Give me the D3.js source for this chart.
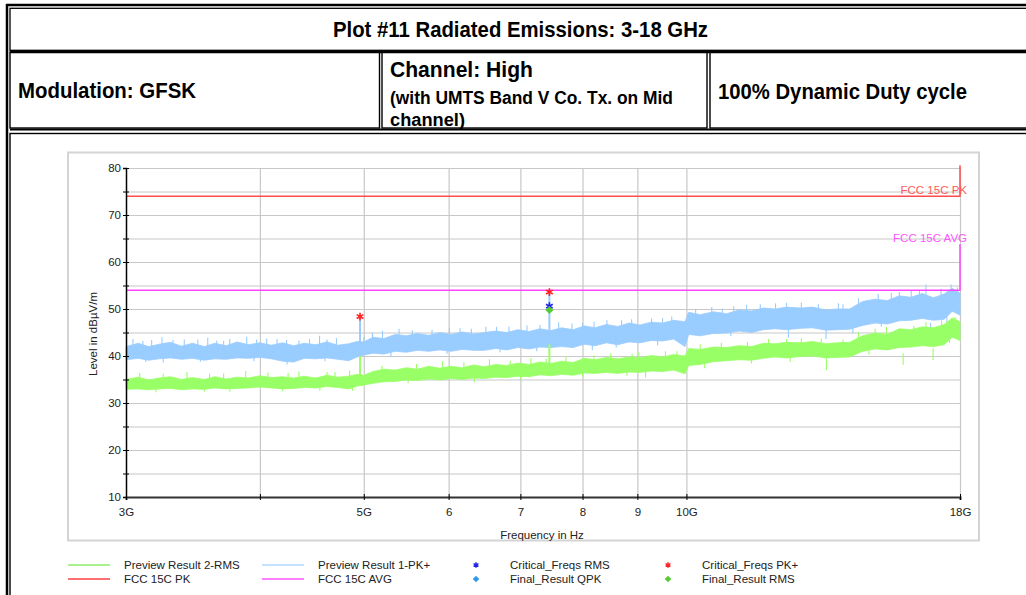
<!DOCTYPE html>
<html>
  <head>
    <meta charset="utf-8">
    <title>Plot #11 Radiated Emissions: 3-18 GHz</title>
    <script src="https://d3js.org/d3.v7.min.js"></script>
    <style>
      body { margin: 0; background: #fff; }
      svg { display: block; font-family: "Liberation Sans", Arial, sans-serif; }
      .head { font-weight: bold; fill: #000; }
      .lbl, .tick text { font-size: 11.5px; fill: #222; font-family: "Liberation Sans", Arial, sans-serif; }
      .grid line { stroke: #c8c8c8; stroke-width: 1.2; }
      .grid path { display: none; }
    </style>
  </head>
  <body>
    <svg id="page" width="1026" height="595"></svg>
    <script>
      // sweep frequencies (GHz) where the trace envelopes were read
      freqs = [3.00, 3.08, 3.15, 3.22, 3.30, 3.38, 3.46, 3.55, 3.63, 3.72, 3.81, 3.90, 4.00, 4.10, 4.20, 4.30, 4.40, 4.51, 4.62, 4.73,
        4.84, 4.93, 5.00, 5.10, 5.22, 5.35, 5.48, 5.61, 5.75, 5.89, 6.03, 6.18, 6.33, 6.48, 6.64, 6.80, 6.96, 7.13, 7.30, 7.47,
        7.65, 7.84, 8.03, 8.22, 8.42, 8.63, 8.84, 9.05, 9.27, 9.50, 9.73, 9.97, 10.05, 10.3, 10.6, 10.9, 11.2, 11.5, 11.8, 12.1,
        12.4, 12.8, 13.1, 13.5, 13.8, 14.2, 14.6, 15.0, 15.4, 15.8, 16.2, 16.6, 17.0, 17.4, 17.7, 18.0];
      // Preview Result 1-PK+ (dBuV/m), top and bottom of the noise band
      pkUpper = [42.0, 42.7, 42.0, 42.5, 42.9, 42.1, 42.7, 42.0, 42.7, 42.2, 43.0, 42.4, 42.8, 42.3, 42.8, 42.2, 42.7, 42.4, 43.0, 42.3,
        42.6, 43.1, 43.0, 44.0, 43.7, 44.6, 44.3, 44.8, 44.4, 45.0, 44.6, 45.1, 44.7, 45.0, 45.3, 45.0, 45.6, 45.2, 45.8, 45.4,
        46.0, 45.6, 46.4, 46.0, 46.7, 46.3, 47.0, 46.6, 47.2, 47.0, 47.6, 47.3, 49.3, 48.8, 49.4, 49.0, 49.8, 49.6, 50.2, 50.0,
        50.4, 50.2, 50.4, 49.8, 50.0, 50.0, 51.6, 52.1, 51.8, 52.8, 52.5, 53.3, 52.4, 53.2, 54.4, 53.4];
      pkLower = [39.2, 39.5, 39.1, 39.4, 39.6, 39.3, 39.5, 39.1, 39.4, 39.3, 39.6, 39.5, 39.7, 39.4, 38.9, 38.7, 39.5, 39.4, 39.6, 39.3,
        39.0, 39.8, 40.2, 40.6, 40.4, 41.0, 40.8, 41.2, 41.0, 41.3, 41.0, 41.4, 41.2, 41.2, 41.6, 41.3, 41.8, 41.5, 41.9, 41.8,
        42.0, 41.8, 42.5, 42.2, 42.8, 42.4, 43.0, 42.8, 43.3, 43.2, 43.6, 42.0, 44.6, 44.3, 44.8, 44.9, 45.3, 45.0, 45.6, 45.8,
        45.6, 45.9, 46.0, 45.5, 45.6, 45.7, 46.5, 47.0, 46.8, 47.5, 47.6, 48.0, 47.6, 47.8, 49.5, 48.7];
      // Preview Result 2-RMS (dBuV/m)
      rmsUpper = [35.0, 35.5, 34.9, 35.3, 35.6, 35.0, 35.4, 35.0, 35.6, 35.1, 35.5, 35.3, 35.8, 35.4, 35.6, 35.3, 35.7, 35.3, 35.9, 35.5,
        35.7, 36.1, 35.9, 36.7, 37.2, 37.0, 37.5, 37.2, 37.8, 37.4, 37.8, 37.5, 38.1, 37.7, 38.2, 38.0, 38.5, 38.2, 38.7, 38.4,
        38.9, 38.6, 39.5, 39.2, 39.7, 39.4, 39.8, 39.6, 40.1, 39.8, 40.3, 40.0, 41.6, 41.4, 41.9, 41.8, 42.2, 42.0, 42.7, 42.6,
        42.9, 42.8, 43.1, 42.6, 42.8, 42.9, 44.3, 44.9, 44.6, 45.8, 45.6, 46.2, 46.0, 46.7, 48.1, 47.3];
      rmsLower = [32.9, 33.0, 32.8, 33.0, 33.1, 32.8, 33.0, 32.9, 33.2, 33.0, 33.1, 33.2, 33.4, 33.2, 33.0, 33.1, 33.3, 33.2, 33.5, 33.3,
        33.0, 33.6, 33.8, 34.2, 34.5, 34.6, 34.9, 34.8, 35.1, 34.9, 35.2, 35.0, 35.3, 35.2, 35.5, 35.4, 35.7, 35.6, 36.0, 35.8,
        36.1, 35.9, 36.4, 36.3, 36.5, 36.3, 36.6, 36.5, 36.8, 36.7, 37.0, 36.2, 38.0, 38.2, 38.8, 39.0, 39.2, 39.1, 39.5, 39.8,
        39.6, 39.9, 40.0, 39.6, 39.7, 39.8, 41.0, 41.5, 41.3, 41.8, 41.9, 42.2, 42.0, 42.4, 44.0, 43.3];
      // single-bin peaks and dips sticking out of the PK+ band
      pkPeakFreqs = [3.045, 3.111, 3.17, 3.241, 3.318, 3.40, 3.501, 3.576, 3.646, 3.70, 3.749, 3.888, 3.972, 4.059, 4.15, 4.236,
        4.35, 4.45, 4.547, 4.62, 4.715, 5.00, 5.094, 5.205, 5.394, 5.55, 5.79, 6.01, 6.15, 6.30, 6.50, 6.65, 6.83, 7.10, 7.30,
        7.60, 7.82, 8.00, 8.20, 8.43, 8.70, 8.89, 9.28, 9.50, 9.69, 10.2, 10.56, 10.8, 11.07, 11.38, 11.72, 12.11, 12.4, 12.80,
        13.28, 13.86, 14.0, 14.47, 15.10, 15.53, 15.8, 16.21, 16.5, 16.73, 17.28, 17.66, 17.9];
      pkPeakLevels = [43.6, 43.2, 43.4, 44.0, 43.4, 43.5, 43.5, 43.9, 43.3, 43.2, 43.6, 44.1, 43.5, 43.7, 43.6, 43.4,
        43.3, 43.6, 44.3, 43.5, 43.8, 44.0, 45.0, 45.4, 45.8, 45.5, 45.6, 45.9, 45.9, 45.8, 46.2, 46.2, 46.3, 46.5, 46.6,
        47.2, 46.9, 47.0, 47.3, 47.6, 47.6, 47.8, 48.0, 48.1, 48.4, 50.0, 50.4, 50.1, 50.6, 50.9, 51.0, 51.2, 51.3, 51.4,
        51.0, 51.2, 51.0, 52.3, 53.2, 53.4, 53.6, 54.0, 53.9, 55.2, 54.3, 55.2, 54.6];
      pkDipFreqs = [3.13, 3.25, 3.52, 3.95, 4.24, 4.60, 5.30, 5.98, 6.70, 7.25, 8.17, 8.60, 9.40, 11.0, 12.45, 13.5, 14.3, 15.2,
        16.9, 17.5];
      pkDipLevels = [38.7, 38.6, 38.8, 38.9, 38.2, 38.9, 39.8, 40.5, 40.8, 41.0, 41.2, 41.8, 42.3, 44.2, 43.9, 43.6, 44.8, 46.2,
        44.6, 47.2];
      // single-bin peaks and dips of the RMS band
      rmsPeakFreqs = [3.09, 3.25, 3.42, 3.59, 3.70, 3.88, 4.07, 4.25, 4.35, 4.62, 4.70, 4.85, 5.20, 5.60, 5.92, 6.20, 6.55, 6.85,
        7.16, 7.40, 7.72, 8.20, 8.50, 8.90, 9.03, 9.56, 9.80, 10.3, 10.78, 11.4, 11.93, 12.4, 12.80, 13.36, 14.0, 14.47, 15.0,
        15.37, 16.3, 16.73, 17.3, 17.81];
      rmsPeakLevels = [36.4, 36.2, 36.6, 36.3, 36.3, 36.8, 36.5, 36.4, 36.7, 36.6, 36.6, 36.9, 37.9, 38.3, 38.9, 38.6, 39.3, 39.0,
        39.6, 39.4, 40.0, 40.1, 40.6, 40.5, 40.8, 41.0, 41.0, 42.5, 42.8, 43.0, 43.6, 43.6, 43.8, 43.7, 43.5, 45.1, 45.8,
        46.2, 46.4, 47.2, 47.6, 48.3];
      rmsDipFreqs = [3.20, 3.55, 3.75, 4.20, 4.55, 4.88, 5.50, 6.34, 7.00, 8.00, 8.80, 9.16, 10.4, 11.5, 12.5, 13.51, 14.8,
        15.93, 16.99, 17.6];
      rmsDipLevels = [32.3, 32.4, 32.4, 32.5, 32.6, 32.6, 34.2, 34.4, 35.0, 35.6, 35.8, 35.4, 37.4, 38.4, 38.8, 37.0, 40.3,
        38.1, 39.1, 42.8];
      // narrow spurious spikes in the preview sweeps
      spikeFreqs = [4.96, 7.45];
      pkSpikeBase = [41.0, 43.5];
      pkSpikeTop = [48.4, 53.6];
      rmsSpikeBase = [34.0, 36.5];
      rmsSpikeTop = [40.0, 42.5];
      // critical frequencies and final measurements
      critPkFreqs = [4.96, 7.45];
      critPkLevels = [48.4, 53.6];
      critRmsFreqs = [7.45];
      critRmsLevels = [50.6];
      finalRmsFreqs = [7.45];
      finalRmsLevels = [49.8];
      // limit lines
      limitFreqs = [3, 18, 18];
      pkLimit = [74, 74, 80.6];
      avgLimit = [54, 54, 63.8];
      // axis ticks
      xTickValues = [3, 4, 5, 6, 7, 8, 9, 10, 18];
      xTickLabels = ["3G", "", "5G", "6", "7", "8", "9", "10G", "18G"];
      xGridValues = [4, 5, 6, 7, 8, 9, 10, 18];
      yTickValues = [10, 15, 20, 25, 30, 35, 40, 45, 50, 55, 60, 65, 70, 75, 80];

      page = d3.select("#page");
      margin = { top: 168, right: 64, bottom: 98, left: 126 };
      width = 1026;
      height = 595;

      // report table around the plot
      table = page.append("g")
        .attr("fill", "none")
        .attr("stroke", "#000");
      table.append("path")
        .attr("stroke-width", 2.5)
        .attr("d", "M6,5H1026M7,4V595");
      table.append("rect")
        .attr("stroke-width", 1.3)
        .attr("x", 10).attr("y", 8.3).attr("width", 1030).attr("height", 42);
      table.append("path")
        .attr("stroke-width", 3)
        .attr("d", "M10,51.8H1026");
      [[10, 379.5], [382, 707], [710, 1040]].forEach(function(c) {
        table.append("rect")
          .attr("stroke-width", 1.4)
          .attr("x", c[0]).attr("y", 52).attr("width", c[1] - c[0]).attr("height", 76);
      });
      table.append("path")
        .attr("stroke-width", 2)
        .attr("d", "M10,129.5H1026");
      table.append("rect")
        .attr("stroke-width", 1.4)
        .attr("x", 10).attr("y", 133.5).attr("width", 1030).attr("height", 500);

      // header cells (condensed bold face, so each line is fitted to its width)
      headTexts = ["Plot #11 Radiated Emissions: 3-18 GHz", "Modulation: GFSK", "Channel: High",
        "(with UMTS Band V Co. Tx. on Mid", "channel)", "100% Dynamic Duty cycle"];
      headX = [333, 18, 390, 390, 390, 718];
      headY = [36.7, 98.3, 76.7, 104, 126, 98.5];
      headSize = [22, 21.5, 22, 18, 18, 21.5];
      headWidth = [375, 178, 143, 283, 75, 249];
      page.selectAll(".head")
        .data(headTexts)
        .enter().append("text")
          .attr("class", "head")
          .attr("x", function(d, i) { return headX[i]; })
          .attr("y", function(d, i) { return headY[i]; })
          .attr("textLength", function(d, i) { return headWidth[i]; })
          .attr("lengthAdjust", "spacingAndGlyphs")
          .style("font-size", function(d, i) { return headSize[i] + "px"; })
          .text(function(d) { return d; });

      // chart frame
      page.append("rect")
        .attr("x", 68).attr("y", 152.5)
        .attr("width", 911).attr("height", 388)
        .attr("fill", "#fff")
        .attr("stroke", "#d4d4d4")
        .attr("stroke-width", 2);

      x = d3.scaleLog()
        .domain([3, 18])
        .range([margin.left, width - margin.right - 2]);
      y = d3.scaleLinear()
        .domain([10, 80])
        .range([height - margin.bottom, margin.top]);

      // grid
      page.append("g").attr("class", "grid")
        .attr("transform", "translate(" + margin.left + ",0)")
        .call(d3.axisLeft(y).tickValues(yTickValues.slice(1)).tickSize(-(x.range()[1] - x.range()[0])).tickFormat(""));
      page.append("g").attr("class", "grid")
        .attr("transform", "translate(0," + y(10) + ")")
        .call(d3.axisBottom(x).tickValues(xGridValues).tickSize(-(y(10) - y(80))).tickFormat(""));

      // preview traces drawn as noise bands with their single-bin peaks
      band = d3.area()
        .x(function(d) { return x(d.f); })
        .y0(function(d) { return y(d.lo); })
        .y1(function(d) { return y(d.hi); });
      function drawTrace(name, colour, upper, lower, peakF, peakL, dipF, dipL) {
        data = freqs.map(function(f, i) { return { f: f, lo: lower[i], hi: upper[i] }; });
        g = page.append("g").attr("id", name);
        g.append("path")
          .attr("fill", colour)
          .attr("stroke", colour)
          .attr("stroke-width", 0.8)
          .attr("d", band(data));
        g.selectAll(".peak")
          .data(peakF)
          .enter().append("line")
            .attr("class", "peak")
            .attr("stroke", colour)
            .attr("stroke-width", 1.1)
            .attr("x1", function(d) { return x(d); })
            .attr("x2", function(d) { return x(d); })
            .attr("y1", function(d, i) { return y(peakL[i]); })
            .attr("y2", function(d, i) { return y(peakL[i] - 2.5); });
        g.selectAll(".dip")
          .data(dipF)
          .enter().append("line")
            .attr("class", "dip")
            .attr("stroke", colour)
            .attr("stroke-width", 1.1)
            .attr("x1", function(d) { return x(d); })
            .attr("x2", function(d) { return x(d); })
            .attr("y1", function(d, i) { return y(dipL[i]); })
            .attr("y2", function(d, i) { return y(dipL[i] + 2.5); });
        return g;
      }
      pkGroup = drawTrace("pkTrace", "#99ccff", pkUpper, pkLower, pkPeakFreqs, pkPeakLevels, pkDipFreqs, pkDipLevels);
      pkGroup.selectAll(".spike")
        .data(spikeFreqs)
        .enter().append("line")
          .attr("class", "spike")
          .attr("stroke", "#99ccff")
          .attr("stroke-width", 2)
          .attr("x1", function(d) { return x(d); })
          .attr("x2", function(d) { return x(d); })
          .attr("y1", function(d, i) { return y(pkSpikeBase[i]); })
          .attr("y2", function(d, i) { return y(pkSpikeTop[i]); });
      rmsGroup = drawTrace("rmsTrace", "#99ff66", rmsUpper, rmsLower, rmsPeakFreqs, rmsPeakLevels, rmsDipFreqs, rmsDipLevels);
      rmsGroup.selectAll(".spike")
        .data(spikeFreqs)
        .enter().append("line")
          .attr("class", "spike")
          .attr("stroke", "#99ff66")
          .attr("stroke-width", 2)
          .attr("x1", function(d) { return x(d); })
          .attr("x2", function(d) { return x(d); })
          .attr("y1", function(d, i) { return y(rmsSpikeBase[i]); })
          .attr("y2", function(d, i) { return y(rmsSpikeTop[i]); });

      // limit lines
      limitLine = d3.line()
        .x(function(d) { return x(d[0]); })
        .y(function(d) { return y(d[1]); });
      page.append("path")
        .attr("fill", "none")
        .attr("stroke", "#ff4b4b")
        .attr("stroke-width", 1.5)
        .attr("d", limitLine(d3.zip(limitFreqs, pkLimit)));
      page.append("path")
        .attr("fill", "none")
        .attr("stroke", "#ff44ff")
        .attr("stroke-width", 1.5)
        .attr("d", limitLine(d3.zip(limitFreqs, avgLimit)));
      page.append("text")
        .attr("class", "lbl")
        .attr("x", x(18) + 7).attr("y", y(74.5))
        .attr("text-anchor", "end")
        .style("fill", "#ff5a5a")
        .text("FCC 15C PK");
      page.append("text")
        .attr("class", "lbl")
        .attr("x", x(18) + 7).attr("y", y(64.3))
        .attr("text-anchor", "end")
        .style("fill", "#ff55ff")
        .text("FCC 15C AVG");

      // markers
      asteriskType = d3.symbolAsterisk || d3.symbolCross;
      diamondType = d3.symbolDiamond2 || d3.symbolDiamond;
      asterisk = d3.symbol().type(asteriskType).size(42);
      diamond = d3.symbol().type(diamondType).size(42);
      page.selectAll(".critPk")
        .data(critPkFreqs)
        .enter().append("path")
          .attr("class", "critPk")
          .attr("d", asterisk)
          .attr("fill", "none")
          .attr("stroke", "#ff2020")
          .attr("stroke-width", 1.6)
          .attr("transform", function(d, i) { return "translate(" + x(d) + "," + y(critPkLevels[i]) + ")"; });
      page.selectAll(".critRms")
        .data(critRmsFreqs)
        .enter().append("path")
          .attr("class", "critRms")
          .attr("d", asterisk)
          .attr("fill", "none")
          .attr("stroke", "#2020ee")
          .attr("stroke-width", 1.6)
          .attr("transform", function(d, i) { return "translate(" + x(d) + "," + y(critRmsLevels[i]) + ")"; });
      page.selectAll(".finalRms")
        .data(finalRmsFreqs)
        .enter().append("path")
          .attr("class", "finalRms")
          .attr("d", diamond)
          .attr("fill", "#55cc33")
          .attr("transform", function(d, i) { return "translate(" + x(d) + "," + y(finalRmsLevels[i]) + ")"; });

      // axes
      yAxisGroup = page.append("g")
        .attr("transform", "translate(" + margin.left + ",0)")
        .call(d3.axisLeft(y).tickValues(yTickValues).tickSize(3).tickPadding(2)
          .tickFormat(function(d) { return d % 10 ? "" : d; }));
      yAxisGroup.selectAll(".tick line").attr("x2", -3).attr("x1", 3).attr("stroke", "#000");
      yAxisGroup.select(".domain").attr("stroke", "#000").attr("stroke-width", 1.5);
      xAxisGroup = page.append("g")
        .attr("transform", "translate(0," + y(10) + ")")
        .call(d3.axisBottom(x).tickValues(xTickValues).tickSize(3).tickPadding(8)
          .tickFormat(function(d, i) { return xTickLabels[i]; }));
      xAxisGroup.selectAll(".tick line").attr("y1", -3).attr("y2", 3).attr("stroke", "#000");
      xAxisGroup.select(".domain").attr("stroke", "#333").attr("stroke-width", 2);
      page.selectAll(".tick text").attr("fill", "#222");

      page.append("text")
        .attr("class", "lbl")
        .attr("transform", "translate(97,334) rotate(-90)")
        .attr("text-anchor", "middle")
        .text("Level in dB\u00b5V/m");
      page.append("text")
        .attr("class", "lbl")
        .attr("x", 542).attr("y", 539)
        .attr("text-anchor", "middle")
        .text("Frequency in Hz");

      // legend
      legendLabels = ["Preview Result 2-RMS", "Preview Result 1-PK+", "Critical_Freqs RMS", "Critical_Freqs PK+",
        "FCC 15C PK", "FCC 15C AVG", "Final_Result QPK", "Final_Result RMS"];
      legendColors = ["#a8f28c", "#c4e2ff", "#2020ee", "#ff2020", "#ff6f6f", "#ff80ff", "#3399ee", "#55cc33"];
      legendKinds = ["line", "line", "asterisk", "asterisk", "line", "line", "diamond", "diamond"];
      legendCols = [68, 262, 476, 668];
      legend = page.selectAll(".legendItem")
        .data(legendLabels)
        .enter().append("g")
          .attr("class", "legendItem")
          .attr("transform", function(d, i) { return "translate(" + legendCols[i % 4] + "," + (565 + 14 * Math.floor(i / 4)) + ")"; });
      legend.each(function(d, i) {
        g = d3.select(this);
        if (legendKinds[i] == "line") {
          g.append("line")
            .attr("x2", 42)
            .attr("stroke", legendColors[i])
            .attr("stroke-width", 2);
          g.append("text").attr("class", "lbl").attr("x", 56).attr("dy", "0.35em").text(d);
        } else {
          g.append("path")
            .attr("d", legendKinds[i] == "asterisk" ? d3.symbol().type(asteriskType).size(22)() : d3.symbol().type(diamondType).size(28)())
            .attr("fill", legendKinds[i] == "asterisk" ? "none" : legendColors[i])
            .attr("stroke", legendKinds[i] == "asterisk" ? legendColors[i] : "none")
            .attr("stroke-width", 1.4);
          g.append("text").attr("class", "lbl").attr("x", 34).attr("dy", "0.35em").text(d);
        }
      });
    </script>
  </body>
</html>
